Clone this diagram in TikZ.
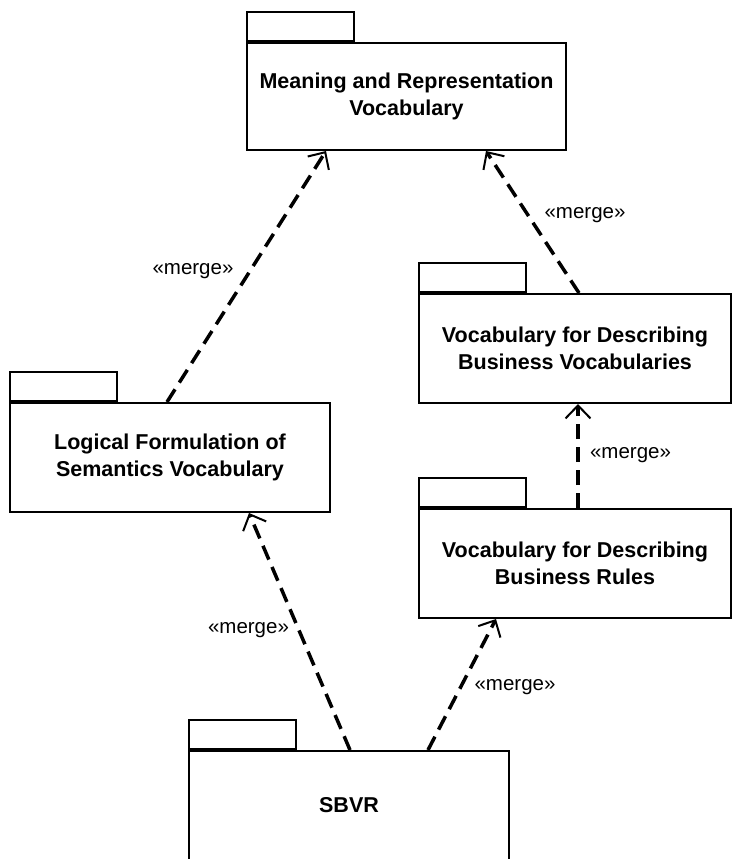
\documentclass[tikz,border=0pt]{standalone}
\usepackage{fontspec}
\setmainfont{Liberation Sans}
\usetikzlibrary{arrows.meta,
positioning}

\begin{document}
\begin{tikzpicture} [x=1pt, y=-1pt,
    >={Straight Barb[length=13pt, width=25pt, line width=2pt]},
    pkg/.style={rectangle, draw, line width=2pt, align=center,
        inner sep=0pt, minimum height=109pt,
        font=\fontsize{21.5}{27}\selectfont\bfseries},
    pkgtab/.style={rectangle, draw, line width=2pt, inner sep=0pt,
        minimum width=107pt, minimum height=29pt, anchor=south west},
    mergeline/.style={->, line width=3.5pt, dash pattern=on 15pt off 8pt},
    mergelbl/.style={inner sep=0pt, font=\fontsize{20.5}{24}\selectfont}
  ]

  \useasboundingbox (0, 0) rectangle (732, 859);

  % packages
  \node [pkg,
    minimum width = 319pt,
    minimum height = 107pt
  ] (mrv) at (406.5, 96.5) {Meaning and Representation\\Vocabulary};
  \node [pkgtab] (mrvtab) at (mrv.north west) {};

  \node [pkg,
    minimum width = 320pt
  ] (lfsv) at (170, 457.5) {Logical Formulation of\\Semantics Vocabulary};
  \node [pkgtab] (lfsvtab) at (lfsv.north west) {};

  \node [pkg,
    minimum width = 312pt
  ] (vdbv) at (575, 348.5) {Vocabulary for Describing\\Business Vocabularies};
  \node [pkgtab] (vdbvtab) at (vdbv.north west) {};

  \node [pkg,
    minimum width = 312pt
  ] (vdbr) at (575, 563.5) {Vocabulary for Describing\\Business Rules};
  \node [pkgtab] (vdbrtab) at (vdbr.north west) {};

  \node [pkg,
    minimum width = 320pt
  ] (sbvr) at (349, 805.5) {SBVR};
  \node [pkgtab] (sbvrtab) at (sbvr.north west) {};

  % merges
  \draw [mergeline] ([xshift=158pt]lfsv.north west) -- ([xshift=80pt]mrv.south west);
  \draw [mergeline] ([xshift=161pt]vdbv.north west) -- ([xshift=240pt]mrv.south west);
  \draw [mergeline] ([xshift=160pt]vdbr.north west) -- ([xshift=160pt]vdbv.south west);
  \draw [mergeline] ([xshift=162pt]sbvr.north west) -- ([xshift=240pt]lfsv.south west);
  \draw [mergeline] ([xshift=240pt]sbvr.north west) -- ([xshift=78pt]vdbr.south west);

  \node [mergelbl] (lbla) at (193, 271) {«merge»};
  \node [mergelbl] (lblb) at (585, 215) {«merge»};
  \node [mergelbl] (lblc) at (630.5, 455) {«merge»};
  \node [mergelbl] (lbld) at (248.5, 630) {«merge»};
  \node [mergelbl] (lble) at (515, 687) {«merge»};

\end{tikzpicture}
\end{document}
